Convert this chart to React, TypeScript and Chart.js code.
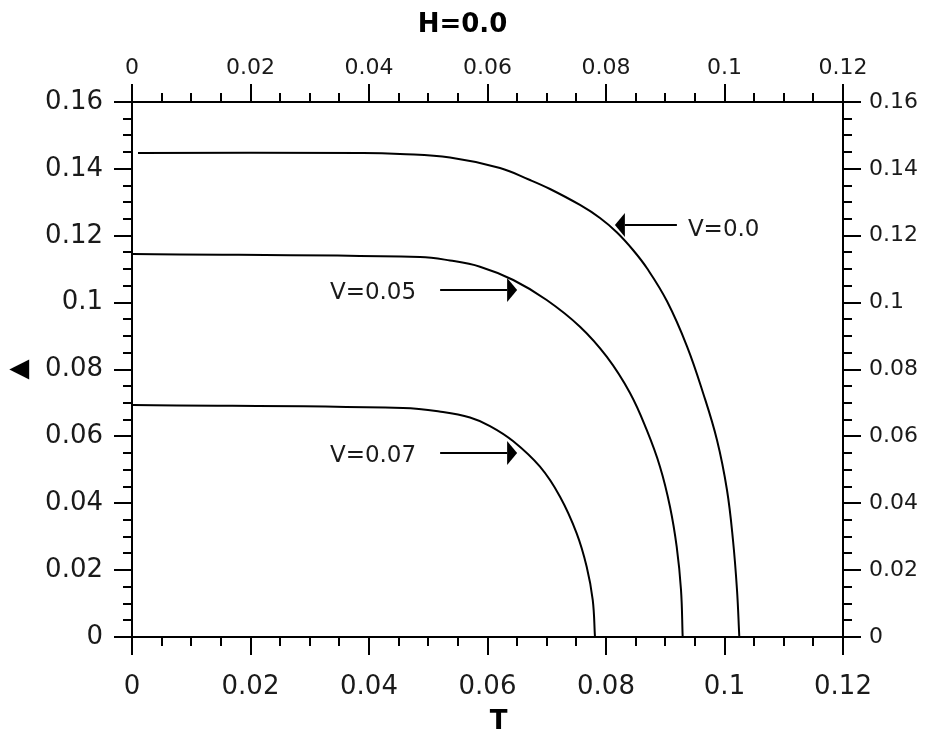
import React, { useEffect, useRef } from 'react';
import { Chart, registerables } from 'chart.js';

Chart.register(...registerables);

// ---- data ----
const V0_T = [0.00101, 0.03899, 0.04523, 0.05367, 0.06211, 0.06717, 0.07055, 0.07561, 0.07899, 0.08186, 0.08456, 0.08692, 0.0903, 0.09367, 0.09637, 0.09873, 0.10042, 0.10143, 0.10211, 0.1025];
const V0_D = [0.14475, 0.14475, 0.14445, 0.1434, 0.14026, 0.13667, 0.13398, 0.1292, 0.12531, 0.12097, 0.11574, 0.11027, 0.1004, 0.08694, 0.07306, 0.05892, 0.04396, 0.02901, 0.01406, 0];

const V05_T = [0.00017, 0.04861, 0.05367, 0.05873, 0.06435, 0.06999, 0.07561, 0.08012, 0.08405, 0.08687, 0.08911, 0.0908, 0.09193, 0.09266, 0.09294];
const V05_D = [0.11454, 0.11365, 0.1126, 0.11075, 0.10677, 0.10079, 0.0928, 0.08383, 0.07297, 0.06191, 0.05093, 0.03897, 0.02701, 0.01406, 0];

const V07_T = [0.00017, 0.04574, 0.05249, 0.05705, 0.06042, 0.0643, 0.06886, 0.07224, 0.07505, 0.07674, 0.07776, 0.07814];
const V07_D = [0.06938, 0.06849, 0.06729, 0.06565, 0.0631, 0.05862, 0.05093, 0.04196, 0.03101, 0.02102, 0.01107, 0];

const ANNO_LABELS = ['V=0.0', 'V=0.05', 'V=0.07'];
const ANNO_TIP_T = [0.0815, 0.065, 0.065];
const ANNO_TIP_D = [0.1232, 0.1038, 0.055];
const ANNO_POINTS_LEFT = [true, false, false];

const TITLE = 'H=0.0';
const X_TITLE = 'T';
const Y_TITLE = '▲';
const X_MIN = 0, X_MAX = 0.12, Y_MIN = 0, Y_MAX = 0.16;
const MAJOR_STEP = 0.02, MINOR_STEP = 0.005;

const FONT = "'DejaVu Sans', sans-serif";
const TEXT = '#1a1a1a';

const toPts = (xs: number[], ys: number[]) => xs.map((x, i) => ({ x, y: ys[i] }));

const fmt = (v: number) => {
  const r = Math.round(v / MAJOR_STEP);
  if (Math.abs(v / MAJOR_STEP - r) > 1e-6) return '';
  return String(parseFloat((r * MAJOR_STEP).toFixed(4)));
};

const decorPlugin = {
  id: 'decor',
  afterDraw(chart: any) {
    const ctx = chart.ctx;
    const { x, x2, y, y2 } = chart.scales;
    const ca = chart.chartArea;
    ctx.save();
    ctx.strokeStyle = '#000';
    ctx.lineWidth = 2;
    const MAJ = 18, MIN = 9;
    const nx = Math.round((X_MAX - X_MIN) / MINOR_STEP);
    for (let i = 0; i <= nx; i++) {
      const v = X_MIN + i * MINOR_STEP;
      const len = i % 4 === 0 ? MAJ : MIN;
      const px = Math.round(x.getPixelForValue(v));
      ctx.beginPath();
      ctx.moveTo(px, ca.bottom);
      ctx.lineTo(px, ca.bottom + len);
      ctx.stroke();
      const px2 = Math.round(x2.getPixelForValue(v));
      ctx.beginPath();
      ctx.moveTo(px2, ca.top);
      ctx.lineTo(px2, ca.top - len);
      ctx.stroke();
    }
    const ny = Math.round((Y_MAX - Y_MIN) / MINOR_STEP);
    for (let i = 0; i <= ny; i++) {
      const v = Y_MIN + i * MINOR_STEP;
      const len = i % 4 === 0 ? MAJ : MIN;
      const py = Math.round(y.getPixelForValue(v));
      ctx.beginPath();
      ctx.moveTo(ca.left, py);
      ctx.lineTo(ca.left - len, py);
      ctx.stroke();
      const py2 = Math.round(y2.getPixelForValue(v));
      ctx.beginPath();
      ctx.moveTo(ca.right, py2);
      ctx.lineTo(ca.right + len, py2);
      ctx.stroke();
    }
    // annotations
    ctx.font = `23px ${FONT}`;
    ctx.textBaseline = 'middle';
    for (let i = 0; i < ANNO_LABELS.length; i++) {
      const tx = x.getPixelForValue(ANNO_TIP_T[i]);
      const ty = Math.round(y.getPixelForValue(ANNO_TIP_D[i]));
      const s = ANNO_POINTS_LEFT[i] ? 1 : -1;
      const headLen = 10, headHalf = 12;
      const shaftEnd = ANNO_POINTS_LEFT[i] ? 62 : 77;
      ctx.fillStyle = '#000';
      ctx.beginPath();
      ctx.moveTo(tx, ty);
      ctx.lineTo(tx + s * headLen, ty - headHalf);
      ctx.lineTo(tx + s * headLen, ty + headHalf);
      ctx.closePath();
      ctx.fill();
      ctx.beginPath();
      ctx.moveTo(tx + s * headLen, ty);
      ctx.lineTo(tx + s * shaftEnd, ty);
      ctx.stroke();
      ctx.fillStyle = TEXT;
      if (ANNO_POINTS_LEFT[i]) {
        ctx.textAlign = 'left';
        ctx.fillText(ANNO_LABELS[i], tx + 73, ty + 5);
      } else {
        ctx.textAlign = 'right';
        ctx.fillText(ANNO_LABELS[i], tx - 101, ty + 3);
      }
    }
    // x-axis title
    ctx.fillStyle = '#000';
    ctx.font = `bold 26px ${FONT}`;
    ctx.textAlign = 'center';
    ctx.textBaseline = 'middle';
    ctx.fillText(X_TITLE, (ca.left + ca.right) / 2 + 11, 722);
    ctx.restore();
  },
};

export default function App() {
  const ref = useRef<HTMLCanvasElement | null>(null);
  useEffect(() => {
    if (!ref.current) return;
    const lineDs = (label: string, data: any[]) => ({
      label,
      data,
      borderColor: '#000',
      backgroundColor: '#000',
      borderWidth: 2,
      pointRadius: 0,
      fill: false,
      tension: 0.4,
      xAxisID: 'x',
      yAxisID: 'y',
    });
    const axisCommon = {
      type: 'linear' as const,
      grid: { display: true, drawOnChartArea: false, drawTicks: false },
      border: { display: true, color: '#000', width: 2 },
    };
    const chart = new Chart(ref.current, {
      type: 'line',
      data: {
        datasets: [
          lineDs('V=0.0', toPts(V0_T, V0_D)),
          lineDs('V=0.05', toPts(V05_T, V05_D)),
          lineDs('V=0.07', toPts(V07_T, V07_D)),
        ],
      },
      options: {
        animation: false,
        responsive: false,
        maintainAspectRatio: false,
        layout: { padding: 0 },
        plugins: {
          legend: { display: false },
          tooltip: { enabled: false },
          title: {
            display: true,
            text: TITLE,
            color: '#000',
            font: { family: FONT, size: 26, weight: 'bold' },
            padding: { top: 10, bottom: 0 },
          },
        },
        scales: {
          x: {
            ...axisCommon,
            position: 'bottom',
            min: X_MIN,
            max: X_MAX,
            ticks: { stepSize: MAJOR_STEP, autoSkip: false, maxRotation: 0, padding: 35, color: TEXT, font: { family: FONT, size: 26 }, callback: (v: any) => fmt(Number(v)) },
            afterFit: (s: any) => { s.height = 100; },
          },
          x2: {
            ...axisCommon,
            display: true,
            position: 'top',
            min: X_MIN,
            max: X_MAX,
            ticks: { stepSize: MAJOR_STEP, autoSkip: false, maxRotation: 0, padding: 21, color: TEXT, font: { family: FONT, size: 22 }, callback: (v: any) => fmt(Number(v)) },
            afterFit: (s: any) => { s.height = 102 - 41.2; },
          },
          y: {
            ...axisCommon,
            position: 'left',
            min: Y_MIN,
            max: Y_MAX,
            ticks: { stepSize: MAJOR_STEP, autoSkip: false, padding: 29, color: TEXT, font: { family: FONT, size: 26 }, callback: (v: any) => fmt(Number(v)) },
            title: { display: true, text: Y_TITLE, color: '#000', font: { family: FONT, size: 26 }, padding: { top: 4, bottom: 0 } },
            afterFit: (s: any) => { s.width = 132; },
          },
          y2: {
            ...axisCommon,
            display: true,
            position: 'right',
            min: Y_MIN,
            max: Y_MAX,
            ticks: { stepSize: MAJOR_STEP, autoSkip: false, padding: 26, color: TEXT, font: { family: FONT, size: 22 }, callback: (v: any) => fmt(Number(v)) },
            afterFit: (s: any) => { s.width = 82; },
          },
        },
      } as any,
      plugins: [decorPlugin],
    });
    return () => chart.destroy();
  }, []);
  return (
    <div style={{ position: 'fixed', left: 0, top: 0, width: 925, height: 737, background: '#fff' }}>
      <canvas ref={ref} width={925} height={737} style={{ display: 'block', width: 925, height: 737 }} />
    </div>
  );
}
